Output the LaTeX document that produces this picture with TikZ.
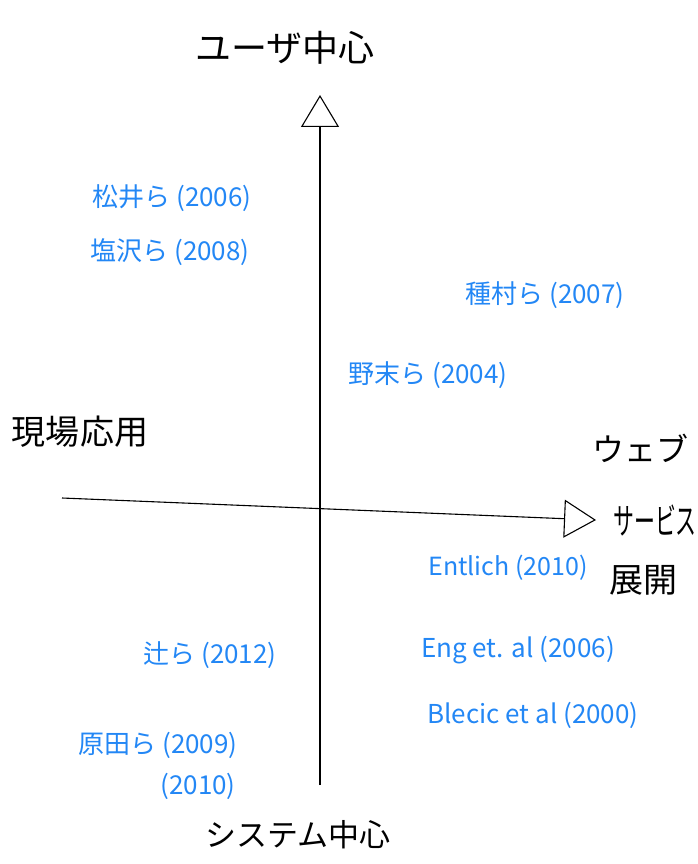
\documentclass[tikz,border=0pt]{standalone}
\usepackage{graphicx}
\usepackage{fontspec}
\setmainfont{Noto Sans CJK JP}
\usetikzlibrary{arrows.meta}
\definecolor{penblue}{RGB}{35,135,245}
\tikzset{
  axislabel/.style={text=black, font=\fontsize{34}{38}\selectfont, inner sep=0pt, align=center},
  ref/.style={text=penblue, font=\fontsize{26}{30}\selectfont, inner sep=0pt},
  axis/.style={draw=black, line width=1.1pt, -{Triangle[open,length=32pt,width=38pt,line width=1.1pt]}}
}
\begin{document}
\begin{tikzpicture}[x=1pt,y=1pt]
\useasboundingbox (0,0) rectangle (697,-864);
% axes
\coordinate (vbot) at (320,-785);
\coordinate (vtop) at (320,-95);
\coordinate (hleft) at (62,-498);
\coordinate (hright) at (596,-520);
\draw[axis] (vbot) -- (vtop);
\draw[axis] (hleft) -- (hright);
% axis labels
\node[axislabel, font=\fontsize{36}{40}\selectfont] (top) at (285,-48) {ユーザ中心};
\node[axislabel, font=\fontsize{31}{34}\selectfont] (bottom) at (298,-835) {システム中心};
\node[axislabel] (left) at (80,-432) {現場応用};
\node[axislabel, font=\fontsize{32}{36}\selectfont] (right1) at (640,-448) {ウェブ};
\node[axislabel, font=\fontsize{36}{40}\selectfont] (right2) at (655,-520) {\scalebox{0.58}[1]{サービス}};
\node[axislabel, font=\fontsize{34}{38}\selectfont] (right3) at (643,-580) {展開};
% references
\node[ref] (matsui) at (172,-198) {松井ら (2006)};
\node[ref] (shiozawa) at (170,-252) {塩沢ら (2008)};
\node[ref] (tanemura) at (545,-295) {種村ら (2007)};
\node[ref] (nozue) at (428,-375) {野末ら (2004)};
\node[ref, font=\fontsize{25}{28}\selectfont] (entlich) at (508,-568) {Entlich (2010)};
\node[ref] (eng) at (518,-650) {Eng et. al (2006)};
\node[ref] (blecic) at (533,-715) {Blecic et al (2000)};
\node[ref] (tsuji) at (210,-655) {辻ら (2012)};
\node[ref] (harada) at (158,-745) {原田ら (2009)};
\node[ref] (harada2) at (198,-786) {(2010)};
\end{tikzpicture}
\end{document}
